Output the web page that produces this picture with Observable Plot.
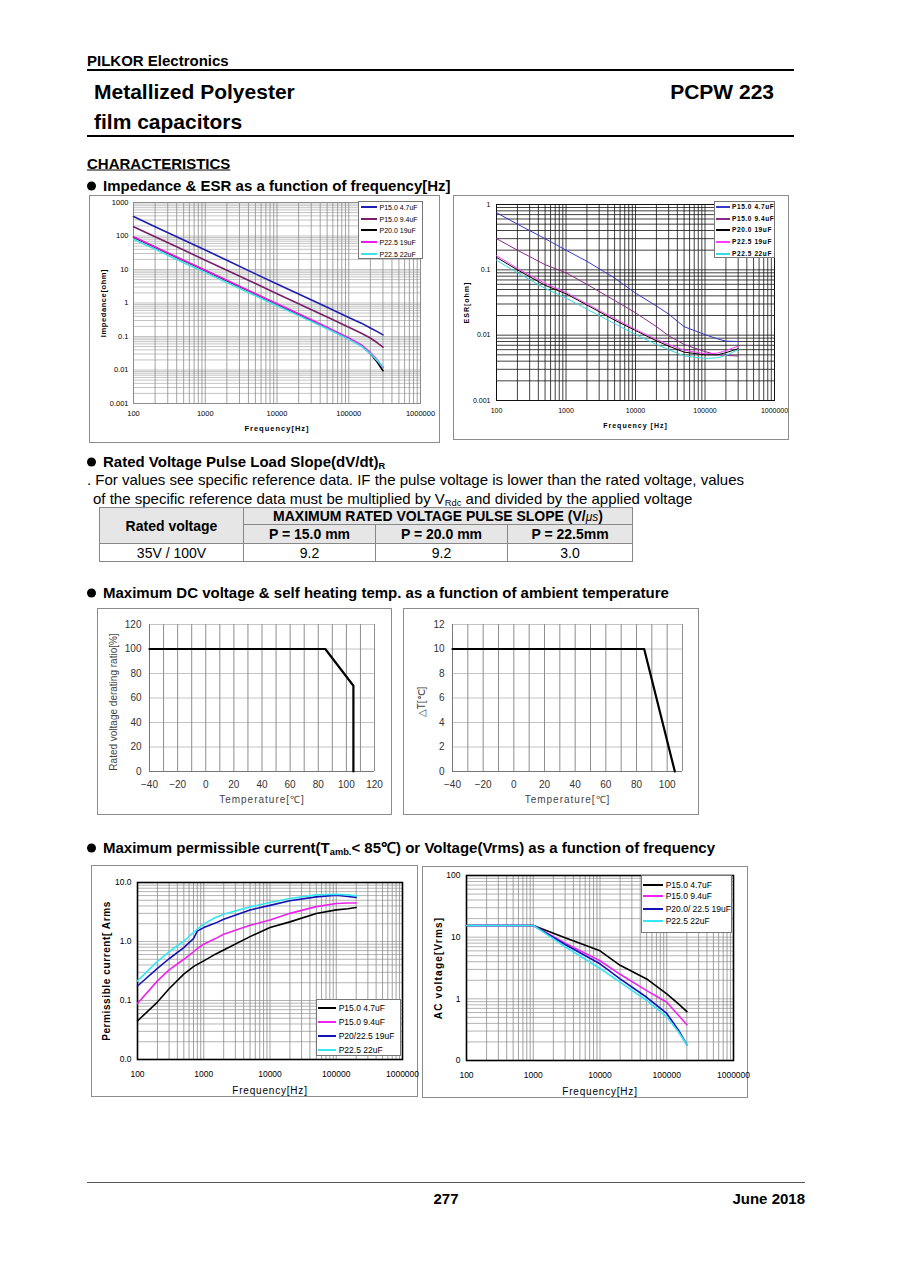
<!DOCTYPE html>
<html><head><meta charset="utf-8">
<script src="https://cdn.jsdelivr.net/npm/d3@7"></script>
<script src="https://cdn.jsdelivr.net/npm/@observablehq/plot@0.6"></script>
<style>
body{margin:0;background:#fff;}
#page{position:relative;width:900px;height:1274px;overflow:hidden;font-family:Arial,"Liberation Sans",sans-serif;color:#000;}
.t{position:absolute;white-space:nowrap;line-height:1;}
.hr{position:absolute;background:#000;}
.box{position:absolute;border:1px solid #8c8c8c;box-sizing:border-box;background:#fff;}
.chart{position:absolute;}
.lg{position:absolute;background:#fff;border:1px solid #777;box-sizing:border-box;}
.sw{position:absolute;}
.dot{display:inline-block;width:9px;height:9px;border-radius:50%;background:#000;margin-right:7px;vertical-align:0px;}
svg text.lbl1{letter-spacing:1px;}
svg text.lbl12{letter-spacing:1.2px;}
svg text.lbl0{letter-spacing:0.8px;}
svg text.lbl06{letter-spacing:0.6px;}
table.pulse{position:absolute;border-collapse:collapse;font-family:Arial,"Liberation Sans",sans-serif;font-size:14px;table-layout:fixed;}
table.pulse td{border:1px solid #888;text-align:center;padding:0;line-height:1;}
table.pulse .hd{background:#e6e6e6;font-weight:bold;}
sub{font-size:0.62em;vertical-align:-0.25em;line-height:0;}
</style></head>
<body><div id="page"></div>
<script>
// ---------------- DATA ----------------
// Impedance vs frequency
const impFreq = [100, 200, 500, 1000, 2000, 5000, 10000, 20000, 50000, 100000, 150000, 200000, 250000, 300000];
const impP150_47 = [380, 190, 76, 38, 19, 7.4, 3.7, 1.85, 0.75, 0.37, 0.25, 0.18, 0.14, 0.112];
const impP150_94 = [190, 95, 38, 19, 9.5, 3.8, 1.9, 0.95, 0.38, 0.19, 0.125, 0.09, 0.065, 0.048];
const impP200_19 = [92, 46, 18.5, 9.3, 4.6, 1.85, 0.92, 0.46, 0.18, 0.088, 0.054, 0.031, 0.017, 0.0095];
const impP225_19 = [95, 47, 19, 9.5, 4.8, 1.9, 0.95, 0.48, 0.19, 0.09, 0.056, 0.033, 0.02, 0.012];
const impP225_22 = [80, 40, 16, 8.2, 4.1, 1.65, 0.83, 0.42, 0.17, 0.082, 0.051, 0.031, 0.019, 0.0125];
// ESR vs frequency
const esrFreq = [100, 200, 500, 1000, 2000, 5000, 10000, 20000, 30000, 50000, 100000, 150000, 200000, 300000];
const esrP150_47 = [0.75, 0.5, 0.3, 0.2, 0.135, 0.075, 0.044, 0.028, 0.021, 0.0135, 0.0102, 0.0088, 0.0081, 0.008];
const esrP150_94 = [0.3, 0.2, 0.12, 0.09, 0.06, 0.034, 0.022, 0.0135, 0.0098, 0.0072, 0.0056, 0.005, 0.0049, 0.0048];
const esrP200_19 = [0.155, 0.1, 0.058, 0.043, 0.029, 0.017, 0.0118, 0.0082, 0.0068, 0.0055, 0.005, 0.005, 0.0054, 0.0062];
const esrP225_19 = [0.165, 0.105, 0.062, 0.045, 0.03, 0.018, 0.0122, 0.0086, 0.0072, 0.0059, 0.0052, 0.0053, 0.0058, 0.0068];
const esrP225_22 = [0.14, 0.09, 0.052, 0.037, 0.025, 0.015, 0.0102, 0.0072, 0.006, 0.0048, 0.0044, 0.0045, 0.0049, 0.006];
const impLegend = ["P15.0 4.7uF", "P15.0 9.4uF", "P20.0 19uF", "P22.5 19uF", "P22.5 22uF"];
// Pulse slope table
const pulseRated = "35V / 100V";
const pulsePitch = ["P = 15.0 mm", "P = 20.0 mm", "P = 22.5mm"];
const pulseSlope = ["9.2", "9.2", "3.0"];
// Derating vs ambient temperature
const derTemp = [-40, 85, 105, 105];
const derRatio = [100, 100, 70, 0];
const heatTemp = [-40, 85, 105];
const heatDeltaT = [10, 10, 0];
// Permissible current vs frequency
const curFreq = [100, 200, 300, 500, 700, 800, 1000, 1500, 2000, 5000, 10000, 20000, 50000, 100000, 150000, 200000];
const curP150_47 = [0.045, 0.094, 0.158, 0.28, 0.375, 0.41, 0.47, 0.61, 0.72, 1.21, 1.72, 2.15, 2.98, 3.44, 3.6, 3.77];
const curP150_94 = [0.089, 0.215, 0.33, 0.5, 0.67, 0.76, 0.9, 1.12, 1.33, 1.88, 2.32, 3.0, 3.9, 4.4, 4.5, 4.5];
const curP200_19 = [0.176, 0.35, 0.51, 0.79, 1.12, 1.5, 1.72, 2.05, 2.38, 3.43, 4.1, 4.9, 5.7, 6.1, 5.8, 5.6];
const curP225_22 = [0.215, 0.46, 0.67, 1.02, 1.42, 1.62, 1.97, 2.55, 2.9, 3.86, 4.58, 5.35, 6.17, 6.34, 6.17, 5.93];
const curLegend = ["P15.0 4.7uF", "P15.0 9.4uF", "P20/22.5 19uF", "P22.5 22uF"];
// AC voltage vs frequency
const vFreq = [100, 1000, 3000, 10000, 20000, 50000, 100000, 150000, 200000];
const vP150_47 = [15.5, 15.5, 9.8, 6.0, 3.5, 2.1, 1.2, 0.83, 0.62];
const vP150_94 = [15.5, 15.5, 8.0, 4.15, 2.5, 1.36, 0.88, 0.54, 0.38];
const vP200_19 = [15.5, 15.5, 7.6, 3.7, 2.1, 1.06, 0.58, 0.31, 0.18];
const vP225_22 = [15.5, 15.5, 7.0, 3.1, 1.86, 0.94, 0.51, 0.29, 0.18];
const vLegend = ["P15.0 4.7uF", "P15.0 9.4uF", "P20.0/ 22.5 19uF", "P22.5 22uF"];

// ---------------- HELPERS ----------------
const page = document.getElementById("page");
const FONT = "Arial, 'Liberation Sans', sans-serif";
function txt(html, x, cy, css = "", anchor = "left") {
  const d = document.createElement("div");
  d.className = "t";
  d.innerHTML = html;
  d.style.cssText += `left:${x}px;top:${cy}px;transform:translate(${anchor === "right" ? "-100%" : anchor === "center" ? "-50%" : "0"},-50%);` + css;
  page.appendChild(d);
  return d;
}
function hr(x1, x2, y, h, color = "#000") {
  const d = document.createElement("div");
  d.className = "hr";
  d.style.cssText = `left:${x1}px;top:${y}px;width:${x2 - x1}px;height:${h}px;background:${color};`;
  page.appendChild(d);
}
function box(x1, y1, x2, y2) {
  const d = document.createElement("div");
  d.className = "box";
  d.style.cssText = `left:${x1}px;top:${y1}px;width:${x2 - x1}px;height:${y2 - y1}px;`;
  page.appendChild(d);
}
function place(svg, x, y) {
  const w = document.createElement("div");
  w.className = "chart";
  w.style.cssText = `left:${x}px;top:${y}px;`;
  w.appendChild(svg);
  page.appendChild(w);
}
function legend(b, rows, sw, tx, labels, colors, fs, css = "") {
  const d = document.createElement("div");
  d.className = "lg";
  d.style.cssText = `left:${b[0]}px;top:${b[1]}px;width:${b[2] - b[0]}px;height:${b[3] - b[1]}px;`;
  page.appendChild(d);
  labels.forEach((lab, i) => {
    const s = document.createElement("div");
    s.className = "sw";
    s.style.cssText = `left:${sw[0]}px;top:${rows[i] - 1}px;width:${sw[1] - sw[0]}px;height:2px;background:${colors[i]};`;
    page.appendChild(s);
    txt(lab, tx, rows[i], `font-size:${fs}px;` + css);
  });
}
function minorLog(lo, hi) {
  const out = [];
  for (let d = lo; d < hi * 0.999; d *= 10) for (let k = 1; k < 10; k++) out.push(+(d * k).toPrecision(3));
  out.push(hi);
  return out;
}
function decades(lo, hi) {
  const out = [];
  for (let d = lo; d <= hi * 1.001; d *= 10) out.push(+d.toPrecision(3));
  return out;
}
const rowsOf = (xs, ys) => xs.map((x, i) => ({x, y: ys[i]}));
// tag a label mark so CSS can letter-space its text
function spaced(svg, texts) {
  d3.select(svg).selectAll("text").each(function () {
    const t = this.textContent;
    if (texts[t]) this.classList.add(texts[t]);
  });
  return svg;
}

function logChart(c) {
  const svg = Plot.plot({
    width: c.w, height: c.h,
    marginLeft: c.ml, marginRight: c.mr, marginTop: c.mt, marginBottom: c.mb,
    style: {fontFamily: FONT, fontSize: c.fs + "px", background: "transparent", color: "#000", overflow: "visible"},
    x: {type: "log", domain: c.xd},
    y: {type: "log", domain: c.yd},
    marks: [
      Plot.ruleY(minorLog(c.yd[0], c.yd[1]), {stroke: c.hGrid, strokeWidth: c.gw}),
      Plot.ruleX(minorLog(c.xd[0], c.xd[1]), {stroke: c.vGrid, strokeWidth: c.gw}),
      Plot.frame({stroke: c.frame, strokeWidth: c.fw}),
      Plot.axisX(decades(c.xd[0], c.xd[1]), {tickSize: 0, tickPadding: c.xp, tickFormat: d => String(d), label: null}),
      Plot.axisY(decades(c.yd[0], c.yd[1]), {tickSize: 0, tickPadding: c.yp, tickFormat: c.yf, label: null}),
      ...c.series.map(s => Plot.line(rowsOf(s.x, s.y), {x: "x", y: "y", stroke: s.color, strokeWidth: c.lw})),
      Plot.text([c.xlabel], {frameAnchor: "bottom", dy: c.xld, textAnchor: "middle", lineAnchor: "middle",
        fontWeight: c.xlw, fontSize: c.xlfs}),
      Plot.text([c.ylabel], {frameAnchor: "left", dx: c.yld, rotate: -90, textAnchor: "middle", lineAnchor: "middle",
        fontWeight: "bold", fontSize: c.ylfs})
    ]
  });
  return spaced(svg, {[c.xlabel]: c.xlcls, [c.ylabel]: c.ylcls});
}

// ---------------- PAGE TEXT ----------------
const H = "font-weight:bold;font-size:15px;";
txt("PILKOR Electronics", 87, 60, "font-weight:bold;font-size:15px;");
hr(87, 794, 69, 2);
txt("Metallized Polyester", 94, 91, "font-weight:bold;font-size:21px;");
txt("PCPW 223", 774, 91, "font-weight:bold;font-size:21px;", "right");
txt("film capacitors", 94, 121, "font-weight:bold;font-size:21px;");
hr(87, 794, 135, 2);
txt("CHARACTERISTICS", 87, 163, "font-weight:bold;font-size:15px;text-decoration:underline;");
const bullet = '<span class="dot"></span>';
txt(bullet + "Impedance &amp; ESR as a function of frequency[Hz]", 87, 185, H);
txt(bullet + "Rated Voltage Pulse Load Slope(dV/dt)<sub>R</sub>", 87, 461, H);
txt(". For values see specific reference data. IF the pulse voltage is lower than the rated voltage, values", 87, 479, "font-size:15px;");
txt("of the specific reference data must be multiplied by V<sub>Rdc</sub> and divided by the applied voltage", 93, 498, "font-size:15px;");
txt(bullet + "Maximum DC voltage &amp; self heating temp. as a function of ambient temperature", 87, 592, H);
txt(bullet + "Maximum permissible current(T<sub>amb.</sub>&lt; 85℃) or Voltage(Vrms) as a function of frequency", 87, 847, H);
hr(87, 805, 1182, 1, "#555");
txt("277", 446, 1198, "font-weight:bold;font-size:15px;", "center");
txt("June 2018", 805, 1198, "font-weight:bold;font-size:15px;", "right");

// ---------------- TABLE ----------------
const tbl = document.createElement("table");
tbl.className = "pulse";
tbl.style.cssText = "left:99px;top:507px;width:533px;border:1px solid #222;";
tbl.innerHTML = `
<colgroup><col style="width:144px"><col style="width:132px"><col style="width:132px"><col style="width:125px"></colgroup>
<tr style="height:17px"><td class="hd" rowspan="2">Rated voltage</td><td class="hd" colspan="3">MAXIMUM RATED VOLTAGE PULSE SLOPE (V/<i style="font-weight:normal;font-size:12px">μs</i>)</td></tr>
<tr style="height:19px">${pulsePitch.map(p => `<td class="hd">${p}</td>`).join("")}</tr>
<tr style="height:18px"><td>${pulseRated}</td>${pulseSlope.map(v => `<td>${v}</td>`).join("")}</tr>`;
page.appendChild(tbl);

// ---------------- IMPEDANCE ----------------
const impColors = ["#1e1eb0", "#7a1e6c", "#000000", "#e81ee8", "#3fe2ea"];
box(89, 195, 440, 443);
place(logChart({
  w: 351, h: 248, ml: 44, mr: 20, mt: 7, mb: 40, fs: 7.5,
  xd: [100, 1e6], yd: [0.001, 1000],
  hGrid: "#b4b4b4", vGrid: "#8c8c8c", gw: 0.8, frame: "#8c8c8c", fw: 1,
  xp: 7, yp: 5, yf: d => String(d), lw: 1.6,
  series: [
    {x: impFreq, y: impP150_47, color: impColors[0]},
    {x: impFreq, y: impP150_94, color: impColors[1]},
    {x: impFreq, y: impP200_19, color: impColors[2]},
    {x: impFreq, y: impP225_19, color: impColors[3]},
    {x: impFreq, y: impP225_22, color: impColors[4]}
  ],
  xlabel: "Frequency[Hz]", xld: 25, xlw: "bold", xlfs: 7.5, xlcls: "lbl1",
  ylabel: "Impedance[ohm]", yld: -30, ylfs: 7.5, ylcls: "lbl06"
}), 89, 195);
legend([358, 201, 423, 259], [207, 218.5, 230, 242, 253.5], [361, 377], 379.5, impLegend, impColors, 7);

// ---------------- ESR ----------------
const esrColors = ["#3838c8", "#8a2a88", "#000000", "#ff3cff", "#38d9e2"];
box(453, 195, 789, 440);
place(logChart({
  w: 336, h: 245, ml: 43, mr: 15, mt: 9, mb: 40, fs: 7,
  xd: [100, 1e6], yd: [0.001, 1],
  hGrid: "#111", vGrid: "#111", gw: 0.8, frame: "#111", fw: 1,
  xp: 8, yp: 6, yf: d => String(d), lw: 1,
  series: [
    {x: esrFreq, y: esrP150_47, color: esrColors[0]},
    {x: esrFreq, y: esrP150_94, color: esrColors[1]},
    {x: esrFreq, y: esrP200_19, color: esrColors[2]},
    {x: esrFreq, y: esrP225_19, color: esrColors[3]},
    {x: esrFreq, y: esrP225_22, color: esrColors[4]}
  ],
  xlabel: "Frequency [Hz]", xld: 25, xlw: "bold", xlfs: 7, xlcls: "lbl1",
  ylabel: "ESR[ohm]", yld: -30, ylfs: 7, ylcls: "lbl1"
}), 453, 195);
legend([714, 201, 775, 258], [207, 218.7, 230.3, 242, 253.7], [716, 730], 732, impLegend, esrColors, 6.5, "letter-spacing:0.6px;font-weight:bold;");

// ---------------- DERATING ----------------
function linChart(c) {
  const svg = Plot.plot({
    width: c.w, height: c.h, marginLeft: c.ml, marginRight: c.mr, marginTop: c.mt, marginBottom: c.mb,
    style: {fontFamily: FONT, fontSize: "10px", background: "transparent", color: "#333", overflow: "visible"},
    x: {domain: c.xd}, y: {domain: c.yd},
    marks: [
      Plot.ruleY(d3.range(c.yd[0] + c.ys, c.yd[1] + 0.001, c.ys), {stroke: "#c4c4c4", strokeWidth: 1}),
      Plot.ruleX(d3.range(c.xd[0] + 10, c.xd[1] + 0.001, 10), {stroke: "#8e8e8e", strokeWidth: 1}),
      Plot.ruleX([c.xd[0]], {stroke: "#777", strokeWidth: 1}),
      Plot.ruleY([c.yd[0]], {stroke: "#777", strokeWidth: 1}),
      Plot.axisX(d3.range(-40, c.xd[1] + 0.001, 20), {tickSize: 0, tickPadding: 9, label: null}),
      Plot.axisY(d3.range(c.yd[0], c.yd[1] + 0.001, c.ys), {tickSize: 0, tickPadding: 8, label: null}),
      Plot.line(rowsOf(c.xs, c.vs), {x: "x", y: "y", stroke: "#000", strokeWidth: 2.2}),
      Plot.text(["Temperature[℃]"], {frameAnchor: "bottom", dy: 28, textAnchor: "middle", lineAnchor: "middle", fontSize: 10, fill: "#444"}),
      Plot.text([c.ylabel], {frameAnchor: "left", dx: c.yld, dy: 4, rotate: -90, textAnchor: "middle", lineAnchor: "middle", fontSize: 10, fill: "#444"})
    ]
  });
  return spaced(svg, {"Temperature[℃]": "lbl1"});
}
box(97, 608, 392, 815);
place(linChart({w: 295, h: 207, ml: 52, mr: 18, mt: 16, mb: 44, xd: [-40, 120], yd: [0, 120], ys: 20,
  xs: derTemp, vs: derRatio, ylabel: "Rated voltage derating ratio[%]", yld: -36}), 97, 608);
box(403, 608, 699, 815);
place(linChart({w: 296, h: 207, ml: 49, mr: 17, mt: 16, mb: 44, xd: [-40, 110], yd: [0, 12], ys: 2,
  xs: heatTemp, vs: heatDeltaT, ylabel: "△T[℃]", yld: -31}), 403, 608);

// ---------------- CURRENT ----------------
const cvColors = ["#000000", "#ee22ee", "#1414b4", "#36e6f2"];
box(91, 865, 418, 1097);
place(logChart({
  w: 327, h: 232, ml: 46, mr: 16, mt: 17, mb: 38, fs: 8.5,
  xd: [100, 1e6], yd: [0.01, 10],
  hGrid: "#a0a0a0", vGrid: "#8a8a8a", gw: 0.8, frame: "#000", fw: 1.6,
  xp: 11, yp: 6, yf: d3.format(".1f"), lw: 1.6,
  series: [
    {x: curFreq, y: curP150_47, color: cvColors[0]},
    {x: curFreq, y: curP150_94, color: cvColors[1]},
    {x: curFreq, y: curP200_19, color: cvColors[2]},
    {x: curFreq, y: curP225_22, color: cvColors[3]}
  ],
  xlabel: "Frequency[Hz]", xld: 31, xlw: "normal", xlfs: 10, xlcls: "lbl0",
  ylabel: "Permissible current[ Arms", yld: -31, ylfs: 10, ylcls: "lbl06"
}), 91, 865);
legend([316, 999, 401, 1056], [1007.7, 1022, 1036, 1050.3], [318, 336], 338.7, curLegend, cvColors, 8.5);

// ---------------- VOLTAGE ----------------
box(422, 866, 748, 1098);
place(logChart({
  w: 326, h: 232, ml: 44, mr: 15, mt: 9, mb: 38, fs: 8.5,
  xd: [100, 1e6], yd: [0.1, 100],
  hGrid: "#a0a0a0", vGrid: "#8a8a8a", gw: 0.8, frame: "#000", fw: 1.6,
  xp: 11, yp: 6, yf: d => d < 1 ? "0" : String(d), lw: 1.6,
  series: [
    {x: vFreq, y: vP150_47, color: cvColors[0]},
    {x: vFreq, y: vP150_94, color: cvColors[1]},
    {x: vFreq, y: vP200_19, color: cvColors[2]},
    {x: vFreq, y: vP225_22, color: cvColors[3]}
  ],
  xlabel: "Frequency[Hz]", xld: 31, xlw: "normal", xlfs: 10, xlcls: "lbl0",
  ylabel: "AC voltage[Vrms]", yld: -28, ylfs: 10, ylcls: "lbl12"
}), 422, 866);
legend([641, 875, 732, 933], [884.7, 896.3, 908.7, 921.3], [643, 663], 665.7, vLegend, cvColors, 8.5);
</script>
</body></html>
